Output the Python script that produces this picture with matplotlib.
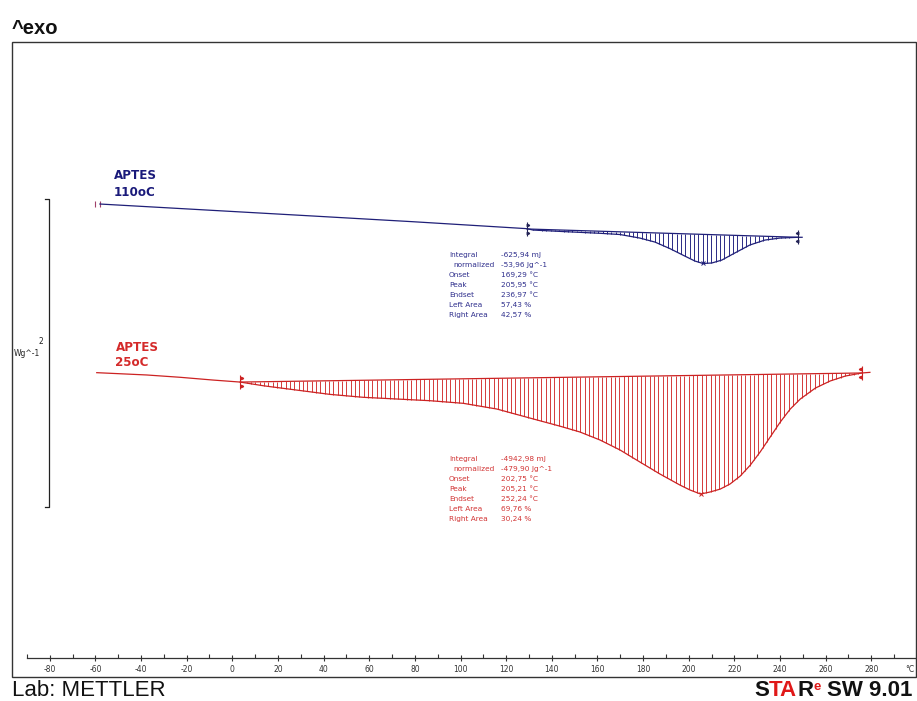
import numpy as np
import matplotlib
matplotlib.use("Agg")
import matplotlib.pyplot as plt
from matplotlib.patches import Rectangle
from matplotlib.transforms import offset_copy

plt.rcParams['font.family'] = ['DejaVu Sans']
plt.rcParams['axes.unicode_minus'] = False

# ---------------- data ----------------
temp_110 = [-58.0, 35.5, 79.3, 129.1, 131.8, 146.6, 161.1, 169.9, 178.6, 185.2,
            191.7, 198.3, 202.7, 206.2, 210.1, 214.5, 220.2, 226.8, 233.4, 240.0,
            247.9, 249.7]
hf_110 = [0.948, 0.870, 0.833, 0.788, 0.779, 0.768, 0.758, 0.750, 0.727, 0.701,
          0.659, 0.610, 0.578, 0.562, 0.565, 0.584, 0.630, 0.682, 0.714, 0.727,
          0.732, 0.732]
base_110_t = [129.1, 247.9]
base_110_v = [0.786, 0.732]

temp_25 = [-59.4, -37.5, -22.9, -8.4, 3.4, 13.6, 28.2, 42.8, 57.4, 72.0, 86.6,
           101.2, 115.9, 130.5, 143.5, 152.3, 161.1, 169.9, 178.6, 187.4, 196.2,
           200.6, 205.2, 209.3, 213.8, 218.1, 222.6, 227.0, 231.3, 235.7, 240.1,
           244.5, 248.9, 255.5, 262.0, 268.6, 275.9, 279.4]
hf_25 = [-0.147, -0.162, -0.177, -0.195, -0.208, -0.232, -0.260, -0.288, -0.307,
         -0.318, -0.329, -0.346, -0.383, -0.442, -0.494, -0.532, -0.584, -0.649,
         -0.727, -0.805, -0.877, -0.909, -0.935, -0.922, -0.903, -0.870, -0.818,
         -0.747, -0.662, -0.565, -0.468, -0.383, -0.318, -0.247, -0.201, -0.169,
         -0.149, -0.145]
base_25_t = [3.4, 275.9]
base_25_v = [-0.208, -0.149]

labels_int = ["Integral", "normalized", "Onset", "Peak", "Endset", "Left Area", "Right Area"]
values_110 = ["-625,94 mJ", "-53,96 Jg^-1", "169,29 \u00b0C", "205,95 \u00b0C",
              "236,97 \u00b0C", "57,43 %", "42,57 %"]
values_25 = ["-4942,98 mJ", "-479,90 Jg^-1", "202,75 \u00b0C", "205,21 \u00b0C",
             "252,24 \u00b0C", "69,76 %", "30,24 %"]

x_ticks = list(range(-80, 281, 20))
x_minor = list(range(-90, 291, 20))

BLUE = '#1f1f78'
BLUE_HATCH = '#2a2a85'
BLUE_TXT = '#2e2e8c'
RED = '#cc2222'
RED_HATCH = '#d43a3a'
RED_TXT = '#d23434'

W, H = 917, 701
def fx(px): return px / W
def fy(py): return 1 - py / H

fig = plt.figure(figsize=(W / 100, H / 100), dpi=100)
fig.patch.set_facecolor('white')

# axes mapped to the frame box
ax = fig.add_axes([fx(12), fy(677), fx(916) - fx(12), fy(42) - fy(677)])
ax.set_facecolor('none')
ax.set_xlim(-96.54, 299.6)
ax.set_ylim(-2.123, 2.0)
for s in ['top', 'left', 'right']:
    ax.spines[s].set_visible(False)
ax.spines['bottom'].set_position(('data', -1.998))
ax.spines['bottom'].set_bounds(-90, 299.6)
ax.spines['bottom'].set_color('#333333')
ax.spines['bottom'].set_linewidth(0.9)
ax.set_yticks([])
ax.set_xticks(x_ticks)
ax.set_xticklabels([str(t) for t in x_ticks])
ax.set_xticks(x_minor, minor=True)
ax.tick_params(axis='x', which='major', direction='inout', length=5, width=0.8,
               labelsize=5.5, pad=3, colors='#333333')
ax.tick_params(axis='x', which='minor', direction='in', length=3, width=0.8,
               colors='#333333')
fig.text(fx(910), fy(669.5), '\u00b0C', ha='center', va='center', fontsize=5.5, color='#333333')

# frame
fig.patches.append(Rectangle((fx(12), fy(677)), fx(916) - fx(12), fy(42) - fy(677),
                             transform=fig.transFigure, fill=False,
                             edgecolor='#333333', linewidth=1.0))

HATCH_STEP = 1.9  # degC between hatch lines

def draw_curve(t, v, bt, bv, color, hcolor, mcolor):
    t = np.asarray(t); v = np.asarray(v)
    ax.plot(t, v, color=color, lw=0.9, zorder=3)
    # vertical hatching between baseline and curve
    ht = np.arange(bt[0] + HATCH_STEP / 2, bt[1], HATCH_STEP)
    ax.vlines(ht, np.interp(ht, bt, bv), np.interp(ht, t, v), colors=hcolor,
              lw=0.7, zorder=2)
    ax.plot(bt, bv, color=color, lw=0.9, zorder=3)
    # baseline limit markers
    for i, (x0, y0) in enumerate(zip(bt, bv)):
        ax.plot([x0], [y0], marker='|', markersize=10, mew=0.8, color=mcolor, zorder=4)
        mk = '>' if i == 0 else '<'
        for dy in (4, -4):
            tr = offset_copy(ax.transData, fig=fig, x=(1.5 if i == 0 else -1.5), y=dy, units='dots')
            ax.plot([x0], [y0], marker=mk, markersize=1.8, color=mcolor, transform=tr, zorder=4)
    k = int(np.argmin(v))
    ax.plot([t[k]], [v[k]], marker='x', markersize=3.5, mew=0.7, color=color, zorder=4)

draw_curve(temp_110, hf_110, base_110_t, base_110_v, BLUE, BLUE_HATCH, '#222255')
draw_curve(temp_25, hf_25, base_25_t, base_25_v, RED, RED_HATCH, RED)

# start marker of blue curve
trs = offset_copy(ax.transData, fig=fig, x=-5, units='dots')
ax.plot([temp_110[0]], [hf_110[0]], marker='|', markersize=5, mew=0.8, color='#a0406a', transform=trs)
ax.plot([temp_110[0]], [hf_110[0]], marker='|', markersize=5, mew=0.8, color='#a0406a')

# scale bar (2 W/g)
ax.plot([-82.08, -80.19, -80.19, -82.08], [0.981, 0.981, -1.019, -1.019],
        color='#222222', lw=0.9)
ax.text(-84.0, 0.054, '2', fontsize=5.5, ha='center', va='center', color='#222222')
ax.text(-89.9, -0.021, 'Wg^-1', fontsize=5.5, ha='center', va='center', color='#222222')

# curve labels
fig.text(fx(114), fy(179.3), 'APTES', fontsize=8.6, fontweight='bold', color='#1a1a7a', va='baseline')
fig.text(fx(114), fy(196), '110oC', fontsize=8.6, fontweight='bold', color='#1a1a7a', va='baseline')
fig.text(fx(115.5), fy(351), 'APTES', fontsize=8.6, fontweight='bold', color='#d42a2a', va='baseline')
fig.text(fx(115.5), fy(365.7), '25oC', fontsize=8.6, fontweight='bold', color='#d42a2a', va='baseline')

# integration result blocks
def block(y0, vals, color):
    for i, (lab, val) in enumerate(zip(labels_int, vals)):
        y = y0 + i * 10
        xl = 453 if lab == 'normalized' else 449
        fig.text(fx(xl), fy(y), lab, fontsize=5.3, color=color, va='center', ha='left')
        fig.text(fx(501.5), fy(y), val, fontsize=5.3, color=color, va='center', ha='left')

block(255, values_110, BLUE_TXT)
block(459, values_25, RED_TXT)

# header / footer texts
fig.text(fx(12), fy(33.5), '^exo', fontsize=14.5, fontweight='bold',
         family='Liberation Sans', color='#111111', va='baseline', ha='left')
fig.text(fx(12), fy(696), 'Lab: METTLER', fontsize=16, family='Liberation Sans',
         color='#111111', va='baseline', ha='left')

renderer = fig.canvas.get_renderer()
pieces = [('S', '#111111', 16, 0), ('TA', '#e01818', 16, 0), ('R', '#111111', 16, 0),
          ('e', '#e01818', 9.5, 5.5), ('SW 9.01', '#111111', 16, 0)]
gaps = [0, 0, 0, 0, 6]
texts = []
x = 0.0
for (s, c, sz, dy), g in zip(pieces, gaps):
    x += g
    t = fig.text(0, fy(696 - dy), s, fontsize=sz, fontweight='bold', family='Liberation Sans',
                 color=c, va='baseline', ha='left')
    w = t.get_window_extent(renderer).width
    texts.append((t, x))
    x += w
total = x
start = 912 - total
for t, off in texts:
    t.set_x(fx(start + off))

fig.savefig('out.png', dpi=100, facecolor='white')
